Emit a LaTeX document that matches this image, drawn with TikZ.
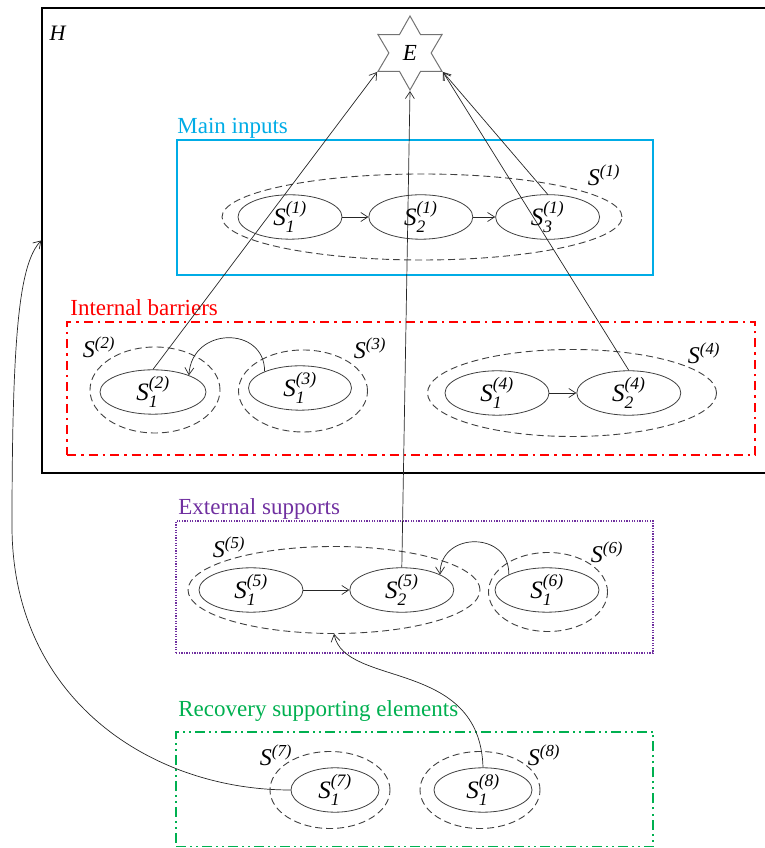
\documentclass[tikz,border=0pt]{standalone}
\usepackage{amsmath}
\usepackage{fontspec}
\setmainfont{Liberation Serif}
\usetikzlibrary{positioning,shapes.geometric,arrows.meta}

\definecolor{inputcol}{RGB}{0,172,230}
\definecolor{barriercol}{RGB}{255,0,0}
\definecolor{supportcol}{RGB}{112,48,160}
\definecolor{recovcol}{RGB}{0,176,80}

\providecommand{\sv}[2]{$\textit{S}_{\textit{#1}}^{\textit{(#2)}}$}
\providecommand{\sg}[1]{$\textit{S}^{\textit{(#1)}}$}

\tikzset{
  elem/.style={ellipse, draw=black!75, minimum width=104pt, minimum height=38pt, inner sep=0pt, font=\fontsize{25}{29}\selectfont},
  grp/.style={ellipse, draw=black!75, line width=0.9pt, dash pattern=on 7pt off 4pt, inner sep=0pt},
  glabel/.style={inner sep=0pt, font=\fontsize{24}{28}\selectfont},
  boxlabel/.style={anchor=base west, inner sep=0pt, font=\fontsize{23}{27}\selectfont},
  arr/.style={-{Straight Barb[length=7pt,width=9pt]}, draw=black!85, line width=0.7pt},
}

\begin{document}
\begin{tikzpicture}[x=1pt, y=1pt, line width=0.8pt]
\useasboundingbox (0,0) rectangle (764,848);

% Frame and target
\node[draw, line width=1.5pt, minimum width=733pt, minimum height=465pt, inner sep=0pt] (H) at (408.5,607.5) {};
\node[glabel, font=\fontsize{22}{26}\selectfont] (Hlab) at (58,815) {\textit{H}};
\node[star, star points=6, star point ratio=1.75, minimum size=74pt, inner sep=0pt, draw=black!55, line width=1pt,
      font=\fontsize{23}{27}\selectfont] (E) at (410,795) {\textit{E}};

% Boxes
\node[draw=inputcol, line width=1.5pt, minimum width=476pt, minimum height=135pt, inner sep=0pt] (inbox) at (415,640.5) {};
\node[draw=barriercol, line width=2pt, dash pattern=on 9pt off 5pt on 2.5pt off 5pt,
      minimum width=688pt, minimum height=133pt, inner sep=0pt] (barbox) at (411,459.5) {};
\node[draw=supportcol, line width=1.3pt, dash pattern=on 1.3pt off 1.3pt,
      minimum width=477pt, minimum height=132pt, inner sep=0pt] (supbox) at (414.5,261) {};
\node[draw=recovcol, line width=1.6pt, dash pattern=on 10pt off 4pt on 2pt off 4pt on 2pt off 4pt,
      minimum width=477pt, minimum height=114.5pt, inner sep=0pt] (recbox) at (414.5,58.75) {};

\node[boxlabel, text=inputcol]   (inlab)  at (177,714) {Main inputs};
\node[boxlabel, text=barriercol] (barlab) at (70,532)  {Internal barriers};
\node[boxlabel, text=supportcol] (suplab) at (178,333) {External supports};
\node[boxlabel, text=recovcol]   (reclab) at (178,131) {Recovery supporting elements};

% Main inputs
\node[grp, minimum width=400pt, minimum height=86pt] (g1) at (422,631) {};
\node[elem] (s11) at (290,631) {\sv{1}{1}};
\node[elem, right=26pt of s11] (s21) {\sv{2}{1}};
\node[elem, right=22pt of s21] (s31) {\sv{3}{1}};
\node[glabel] (l1) at (604,673) {\sg{1}};

% Internal barriers
\node[grp, minimum width=130pt, minimum height=86pt] (g2) at (155,458) {};
\node[elem, minimum width=106pt] (s12) at (153,456) {\sv{1}{2}};
\node[grp, minimum width=129pt, minimum height=82pt] (g3) at (303,457) {};
\node[elem, minimum width=103pt] (s13) at (300,460) {\sv{1}{3}};
\node[grp, minimum width=289pt, minimum height=87pt] (g4) at (572,455) {};
\node[elem] (s14) at (497,455) {\sv{1}{4}};
\node[elem, right=27pt of s14] (s24) {\sv{2}{4}};
\node[glabel] (l2) at (99,501) {\sg{2}};
\node[glabel] (l3) at (370,500) {\sg{3}};
\node[glabel] (l4) at (704,495) {\sg{4}};

% External supports
\node[grp, minimum width=292pt, minimum height=87pt] (g5) at (334,258) {};
\node[elem, minimum height=36pt] (s15) at (251,258) {\sv{1}{5}};
\node[elem, minimum height=36pt, right=46pt of s15] (s25) {\sv{2}{5}};
\node[grp, minimum width=119pt, minimum height=79pt] (g6) at (548,256) {};
\node[elem, minimum height=37pt] (s16) at (547,258) {\sv{1}{6}};
\node[glabel] (l5) at (229,301) {\sg{5}};
\node[glabel] (l6) at (607,296) {\sg{6}};

% Recovery supporting elements
\node[grp, minimum width=120pt, minimum height=77pt] (g7) at (330,58) {};
\node[elem, minimum width=88pt, minimum height=36pt] (s17) at (335,58) {\sv{1}{7}};
\node[grp, minimum width=120pt, minimum height=77pt] (g8) at (480,58) {};
\node[elem, minimum width=98pt, minimum height=36pt] (s18) at (483,58) {\sv{1}{8}};
\node[glabel] (l7) at (276,93) {\sg{7}};
\node[glabel] (l8) at (544,93) {\sg{8}};

% Connect the nodes
\draw[arr] (s11) -- (s21);
\draw[arr] (s21) -- (s31);
\draw[arr] (s14) -- (s24);
\draw[arr] (s15) -- (s25);
\draw[arr] (s12.north) -- (E.outer point 3);
\draw[arr] (s25.north) -- (E.outer point 4);
\draw[arr] (s31.north) -- (E.outer point 5);
\draw[arr] (s24.north) -- (E.outer point 5);
\draw[arr] (s13.155) .. controls (265,522) and (192,522) .. (s12.25);
\draw[arr] (s16.158) .. controls (510,317) and (440,317) .. (s25.22);
\draw[arr] (s18.north) .. controls (480,190) and (345,160) .. (g5.south);
\coordinate (bend) at (12,322);
\draw[arr] (s17.west) .. controls (150,58) and (12,150) .. (bend)
                      .. controls (12,520) and (20,585) .. (H.west);

\end{tikzpicture}
\end{document}
